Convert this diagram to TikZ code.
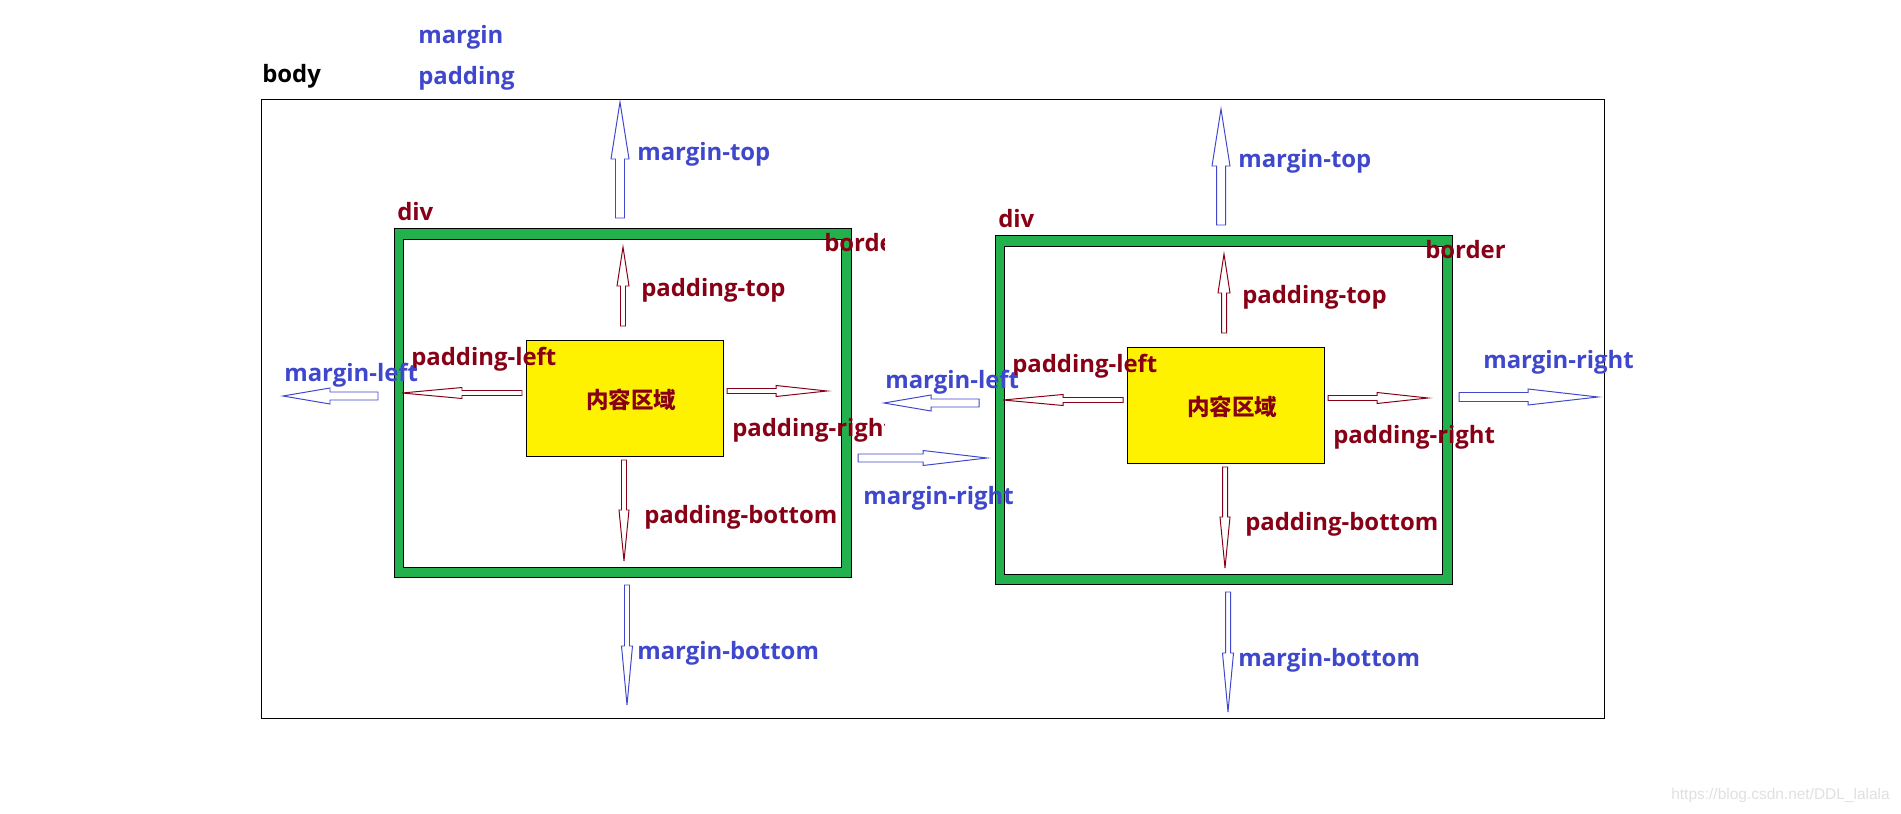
\documentclass[tikz,border=0pt]{standalone}
\usepackage{fontspec}
\setmainfont{Open Sans}
\newfontfamily\cjkfont{Noto Sans CJK SC}
\newfontfamily\urlfont{Liberation Sans}
\definecolor{mblue}{RGB}{63,72,204}
\definecolor{pred}{RGB}{136,0,21}
\definecolor{bgreen}{RGB}{34,177,76}
\definecolor{cyellow}{RGB}{255,242,0}

\tikzset{
  mtext/.style={text=mblue, font=\bfseries\fontsize{17}{20}\selectfont, anchor=base west, inner sep=0pt},
  ptext/.style={mtext, text=pred},
  marrow/.style={color=mblue, line width=0.7pt},
  parrow/.style={color=pred, line width=0.7pt},
  pics/boxarrow/.style args={#1/#2/#3/#4}{code={
    \draw[fill=white] (0,-#3) -- (#1-#2,-#3) -- (#1-#2,-#4) -- (#1,0)
      -- (#1-#2,#4) -- (#1-#2,#3) -- (0,#3) -- cycle;
  }},
}

\begin{document}
\begin{tikzpicture}[x=0.025cm, y=-0.025cm]
\useasboundingbox (0,0) rectangle (1901,814);

% body
\draw[line width=0.7pt] (261,99) rectangle (1604,718);
\node (body) [mtext, text=black] at (262,83) {body};
\node (margin) [mtext] at (418,44) {margin};
\node (padding) [mtext] at (418,85) {padding};

% the two divs
\foreach \dx/\dy/\cx/\s in {0/0/884/l, 601/7/1100/r}{
\begin{scope}[shift={(\dx,\dy)}]
\draw[fill=bgreen, line width=0.7pt] (394,228) rectangle (851,577);
\draw[fill=white, line width=0.7pt] (403,239) rectangle (841,567);
\draw[fill=cyellow, line width=0.7pt] (526,340) rectangle (723,456);
\node (cont-\s) [font=\cjkfont\bfseries\fontsize{16}{18}\selectfont, text=pred] at (631,400) {内容区域};

\pic[marrow, rotate=90] at (620,218) {boxarrow=116/57/4.5/9};
\pic[parrow, rotate=90] at (623,326) {boxarrow=79/39/2.5/6};
\pic[parrow, rotate=180] at (522,393) {boxarrow=120/60/2.5/5.5};
\pic[marrow, rotate=180] at (378,396) {boxarrow=95/47/4/8};
\pic[parrow] at (727,391) {boxarrow=100/51/2.5/5.5};
\pic[parrow, rotate=270] at (624,460) {boxarrow=101/51/2.5/5};
\pic[marrow, rotate=270] at (627,585) {boxarrow=120/59/2.5/5.5};

\node (div-\s) [ptext] at (397,221) {div};
\node (mtop-\s) [mtext] at (637,161) {margin-top};
\node (ptop-\s) [ptext] at (641,296) {padding-top};
\node (pleft-\s) [ptext] at (411,365) {padding-left};
\node (mleft-\s) [mtext] at (284,381) {margin-left};
\node (pbottom-\s) [ptext] at (644,523) {padding-bottom};
\node (mbottom-\s) [mtext] at (637,659) {margin-bottom};
\begin{scope}
\clip (700,200) rectangle (\cx,460);
\node (border-\s) [ptext] at (824,251) {border};
\node (pright-\s) [ptext] at (732,436) {padding-right};
\end{scope}
\end{scope}
}

% margin-right of each div
\pic[marrow] at (858,458) {boxarrow=129/64/4/7.5};
\node (mright-l) [mtext] at (863,504) {margin-right};
\pic[marrow] at (1459,397) {boxarrow=139/70/4.5/8};
\node (mright-r) [mtext] at (1483,368) {margin-right};

\node (url) [font=\urlfont\fontsize{11}{13}\selectfont, text=black!12, anchor=base east, inner sep=0pt] at (1890,799) {https://blog.csdn.net/DDL\_lalala};
\end{tikzpicture}
\end{document}
